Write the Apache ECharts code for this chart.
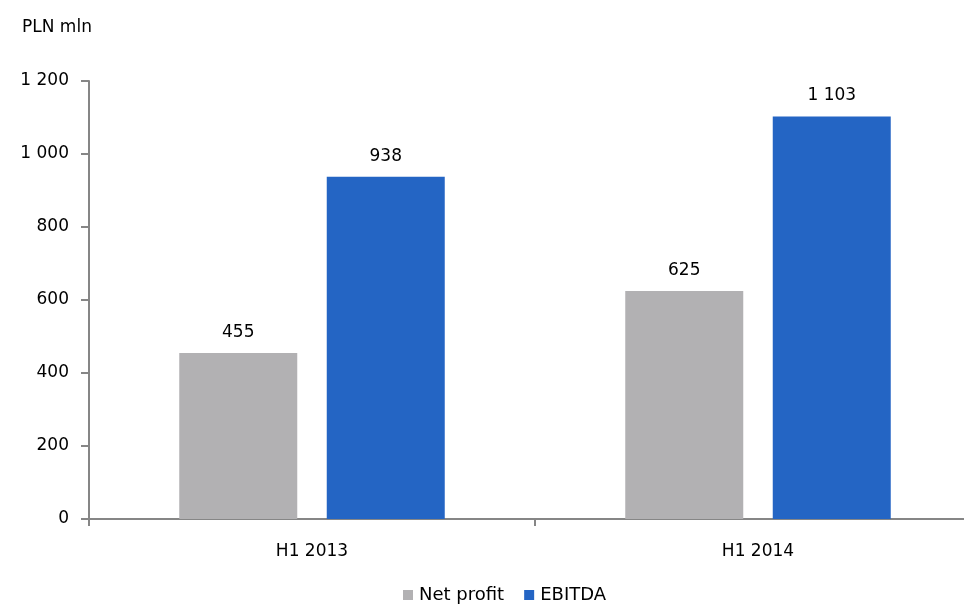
<!DOCTYPE html>
<html>
<head>
<meta charset="utf-8">
<script src="https://cdn.jsdelivr.net/npm/echarts@6/dist/echarts.min.js"></script>
<style>
  html, body { margin: 0; padding: 0; background: #fff; overflow: hidden; }
  /* the plot runs past the right edge of the window, so the canvas is wider */
  #chart { width: 981px; height: 609px; }
</style>
</head>
<body>
<div id="chart"></div>
<script>
// data
const categories = ['H1 2013', 'H1 2014']
const netProfit = [455, 625]
const ebitda = [938, 1103]
const seriesNames = ['Net profit', 'EBITDA']

const font = 'DejaVu Sans'
const axisColor = '#868686'

// 1200 -> "1 200"
function fmt(v) {
  return String(v).replace(/\B(?=(\d{3})+(?!\d))/g, ' ')
}

const chart = echarts.init(document.getElementById('chart'))

const labelStyle = {
  show: true,
  position: 'top',
  distance: 12,
  color: '#000',
  fontSize: 17,
  fontFamily: font,
  formatter: p => fmt(p.value)
}

const option = {
  animation: false,
  textStyle: {fontFamily: font},
  color: ['#b2b1b3', '#2465c4'],
  grid: {
    left: 89,
    right: 0,
    top: 81,
    bottom: 90,
    containLabel: false
  },
  title: {
    text: 'PLN mln',
    left: 17,
    top: 14,
    textStyle: {fontFamily: font, fontSize: 17, fontWeight: 'normal', color: '#000'}
  },
  legend: {
    bottom: 0,
    left: 398,
    itemWidth: 10,
    itemHeight: 10,
    itemGap: 20,
    icon: 'rect',
    textStyle: {fontFamily: font, fontSize: 18, color: '#000', padding: [0, 0, 0, 1]},
    data: seriesNames
  },
  xAxis: {
    type: 'category',
    data: categories,
    axisLine: {lineStyle: {color: axisColor, width: 2}},
    axisTick: {show: true, length: 7, lineStyle: {color: axisColor, width: 2}},
    axisLabel: {color: '#000', fontSize: 17, margin: 24, fontFamily: font}
  },
  yAxis: {
    type: 'value',
    min: 0,
    max: 1200,
    interval: 200,
    axisLine: {show: true, lineStyle: {color: axisColor, width: 2}},
    axisTick: {show: true, length: 8, lineStyle: {color: axisColor, width: 2}},
    splitLine: {show: false},
    axisLabel: {color: '#000', fontSize: 17, margin: 20, fontFamily: font, padding: [4, 0, 0, 0], formatter: fmt}
  },
  series: [
    {
      name: seriesNames[0],
      type: 'bar',
      data: netProfit,
      barWidth: 118,
      barGap: '25%',
      label: labelStyle
    },
    {
      name: seriesNames[1],
      type: 'bar',
      data: ebitda,
      barWidth: 118,
      barGap: '25%',
      label: labelStyle
    }
  ]
}

chart.setOption(option)
</script>
</body>
</html>
